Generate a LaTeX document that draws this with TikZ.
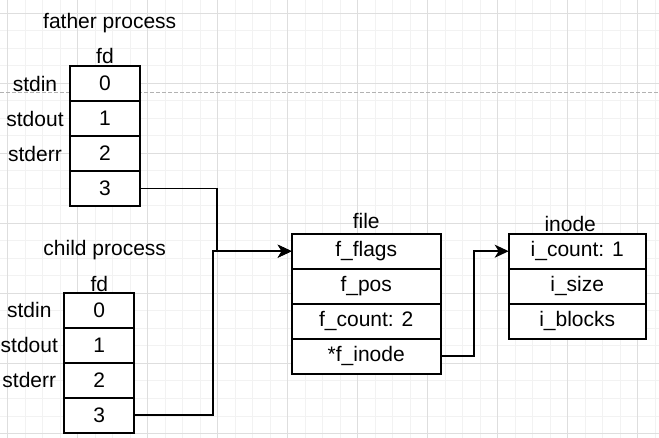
\documentclass[tikz,border=0pt]{standalone}
\usepackage{fontspec}
\setmainfont{Liberation Sans}
\usetikzlibrary{arrows.meta, positioning}

\begin{document}
\begin{tikzpicture}[
      x=1pt, y=-1pt,
      node distance=0pt,
      txt/.style={inner sep=0pt, outer sep=0pt, font=\fontsize{21}{25}\selectfont},
      cell/.style={txt, draw, fill=white, line width=1.75pt, minimum height=35pt},
      fdcell/.style={cell, minimum width=70pt},
      filecell/.style={cell, minimum width=149pt},
      inodecell/.style={cell, minimum width=137pt},
      stdlabel/.style={txt, minimum width=70pt},
      link/.style={-{Stealth[length=14pt, width=13pt, inset=4pt]}, line width=1.75pt},
      minorgrid/.style={draw=black!5, line width=0.6pt},
      majorgrid/.style={draw=black!13, line width=0.8pt}
    ]
    \useasboundingbox (0,0) rectangle (659,438);
    \foreach \k in {0,...,37} \draw[minorgrid] (7.3+17.5*\k,0) -- (7.3+17.5*\k,438);
    \foreach \k in {0,...,24} \draw[minorgrid] (0,13.3+17.5*\k) -- (659,13.3+17.5*\k);
    \foreach \k in {0,...,9} \draw[majorgrid] (7.3+70*\k,0) -- (7.3+70*\k,438);
    \foreach \k in {0,...,6} \draw[majorgrid] (0,13.3+70*\k) -- (659,13.3+70*\k);
    \draw[black!30, line width=0.7pt, dash pattern=on 3.5pt off 2.5pt] (0,92) -- (659,92);

    \node[txt] (father) at (109.7,23.5) {father process};
    \node[fdcell, anchor=north west] (f0) at (70,66) {0};
    \node[fdcell, below=of f0] (f1) {1};
    \node[fdcell, below=of f1] (f2) {2};
    \node[fdcell, below=of f2] (f3) {3};
    \node[txt, above=2pt of f0] (ffd) {fd};
    \node[stdlabel, left=of f0] (fin) {stdin};
    \node[stdlabel, left=of f1] (fout) {stdout};
    \node[stdlabel, left=of f2] (ferr) {stderr};

    \node[txt] (child) at (104.7,250) {child process};
    \node[fdcell, anchor=north west] (c0) at (64.3,292.7) {0};
    \node[fdcell, below=of c0] (c1) {1};
    \node[fdcell, below=of c1] (c2) {2};
    \node[fdcell, below=of c2] (c3) {3};
    \node[txt, above=1pt of c0] (cfd) {fd};
    \node[stdlabel, left=of c0] (cin) {stdin};
    \node[stdlabel, left=of c1] (cout) {stdout};
    \node[stdlabel, left=of c2] (cerr) {stderr};

    \node[filecell, anchor=north west] (flags) at (291.7,233.7) {f\_flags};
    \node[filecell, below=of flags] (fpos) {f\_pos};
    \node[filecell, below=of fpos] (fcount) {f\_count: 2};
    \node[filecell, below=of fcount] (finode) {*f\_inode};
    \node[txt, above=5pt of flags] (file) {file};

    \node[inodecell, anchor=north west] (icount) at (508.7,233.7) {i\_count: 1};
    \node[inodecell, below=of icount] (isize) {i\_size};
    \node[inodecell, below=of isize] (iblocks) {i\_blocks};
    \node[txt, above=2pt of icount, xshift=-7pt] (inode) {inode};

    \draw[link] (f3.east) -- ++(77,0) |- (flags.west);
    \draw[link] (c3.east) -- ++(79,0) |- (flags.west);
    \draw[link] (finode.east) -- ++(33,0) |- (icount.west);
  \end{tikzpicture}
\end{document}
